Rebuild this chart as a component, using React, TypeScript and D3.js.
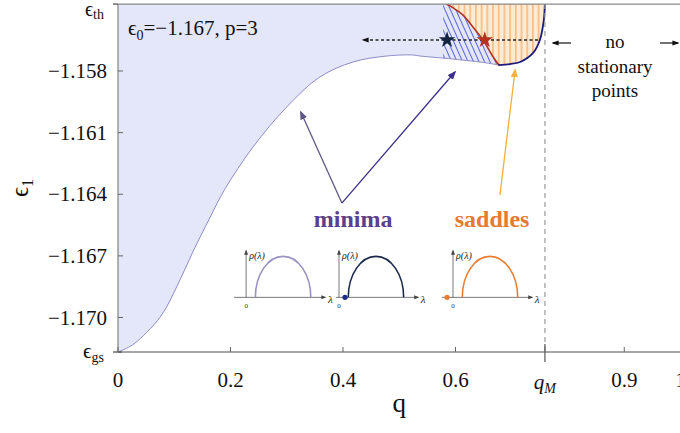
import React from "react";
import * as d3 from "d3";

// ---------- data ----------
const EPS_TH = -1.15474;
const EPS_GS = -1.17168;
const Q_M = 0.759;

// lower boundary of the minima region (thin lavender curve)
const lowerQ = [0, 0.015, 0.03, 0.075, 0.105, 0.133, 0.164, 0.19, 0.24, 0.3, 0.359, 0.418, 0.478, 0.524, 0.537, 0.596, 0.656, 0.676];
const lowerEps = [-1.17168, -1.1715, -1.17125, -1.16998, -1.16847, -1.16681, -1.16511, -1.16375, -1.1617, -1.15975, -1.15829, -1.15756, -1.15727, -1.15722, -1.15727, -1.15742, -1.15761, -1.15771];

// navy boundary of saddles region
const navyQ = [0.676, 0.697, 0.715, 0.738, 0.75, 0.757, 0.759];
const navyEps = [-1.15771, -1.15766, -1.15756, -1.15712, -1.15649, -1.15552, -1.15474];

// red boundary between minima (hatched) and saddles
const redQ = [0.584, 0.596, 0.613, 0.631, 0.649, 0.667, 0.677];
const redEps = [-1.15474, -1.15493, -1.15527, -1.15586, -1.15649, -1.15732, -1.15771];

const HATCH_Q0 = 0.578;

const starsQ = [0.585, 0.652];
const starEps = -1.15649;
const dashArrowQ = [0.4356, 0.7467];

const yTicks = [-1.158, -1.161, -1.164, -1.167, -1.17];
const yTickLabels = ["−1.158", "−1.161", "−1.164", "−1.167", "−1.170"];
const xTicks = [0, 0.2, 0.4, 0.6, 0.9, 1.0];
const xTickLabels = ["0", "0.2", "0.4", "0.6", "0.9", "1"];

// annotation arrows, [q, eps]
const minimaVertex: [number, number] = [0.398, -1.16443];
const minimaTip1: [number, number] = [0.325, -1.16];
const minimaTip2: [number, number] = [0.599, -1.15805];
const saddleFrom: [number, number] = [0.679, -1.16404];
const saddleTip: [number, number] = [0.706, -1.15795];

// insets: origin in main data coords [q, eps]
const insetOrigins: [number, number][] = [
  [0.2278, -1.16902],
  [0.3929, -1.16902],
  [0.5956, -1.16902],
];
const insetColors = ["#9a92c4", "#1c2a4c", "#ec7d2e"];
const insetDotColors = [null, "#1e2a8a", "#ec7d2e"];

const W = 680;
const H = 433;

export default function App() {
  const x = d3.scaleLinear().domain([0, 1]).range([118, 680.5]);
  const y = d3.scaleLinear().domain([-1.17, -1.158]).range([317.5, 71]);
  const yTop = y(EPS_TH);
  const yBot = y(EPS_GS);

  const lowerPts: [number, number][] = lowerQ.map((q, i) => [q, lowerEps[i]]);
  const navyPts: [number, number][] = navyQ.map((q, i) => [q, navyEps[i]]);
  const redPts: [number, number][] = redQ.map((q, i) => [q, redEps[i]]);

  const smooth = d3.curveCatmullRom.alpha(0.5);

  const line = d3
    .line<[number, number]>()
    .x((d) => x(d[0]))
    .y((d) => y(d[1]))
    .curve(smooth);

  const area = d3
    .area<[number, number]>()
    .x((d) => x(d[0]))
    .y0(yTop)
    .y1((d) => y(d[1]))
    .curve(smooth);

  const lowerPath = line(lowerPts) || "";
  const blueArea = area(lowerPts) || "";
  const navyPath = line(navyPts) || "";
  const redPath = line(redPts) || "";

  // orange region: top edge, navy down reversed, red up reversed
  const navyRev = line([...navyPts].reverse()) || "";
  const orangeRegion =
    `M${x(redQ[0])},${yTop}L${x(navyQ[navyQ.length - 1])},${yTop}` +
    navyRev.replace(/^M/, "L") +
    (line(redPts.slice().reverse()) || "").replace(/^M/, "L") +
    "Z";

  // hatched minima region: top, red curve down, lower curve back
  const lowerRevPart = line(lowerPts.filter((p) => p[0] >= 0.52).reverse()) || "";
  const hatchRegion =
    `M${x(0.52)},${yTop}L${x(redQ[0])},${yTop}` +
    redPath.replace(/^M/, "L") +
    lowerRevPart.replace(/^M/, "L") +
    "Z";

  const serif = "'Liberation Serif', 'Times New Roman', serif";

  const star = d3.symbol().type(d3.symbolStar).size(85)() || "";

  const arrowLine = (a: [number, number], b: [number, number], color: string, marker: string, w = 1.3) => (
    <line x1={x(a[0])} y1={y(a[1])} x2={x(b[0])} y2={y(b[1])} stroke={color} strokeWidth={w} markerEnd={`url(#${marker})`} />
  );

  return (
    <svg width={W} height={H} style={{ position: "absolute", left: 0, top: 0, background: "#fff" }} fontFamily={serif}>
      <defs>
        <pattern id="vhatch" patternUnits="userSpaceOnUse" width={5.7} height={10}>
          <rect width={5.7} height={10} fill="#fdebd3" />
          <line x1={2.8} y1={0} x2={2.8} y2={10} stroke="#f6a25d" strokeWidth={1.1} />
        </pattern>
        <pattern id="dhatch" patternUnits="userSpaceOnUse" width={5} height={10} patternTransform="rotate(-24)">
          <line x1={2.5} y1={0} x2={2.5} y2={10} stroke="#4a58d0" strokeWidth={0.9} />
        </pattern>
        <clipPath id="hatchClip">
          <rect x={x(HATCH_Q0)} y={0} width={200} height={H} />
        </clipPath>
        <clipPath id="plotClip">
          <rect x={118} y={yTop} width={W - 118} height={yBot - yTop} />
        </clipPath>
        <marker id="arrBlack" viewBox="0 0 10 10" refX={8} refY={5} markerWidth={7} markerHeight={7} orient="auto-start-reverse" markerUnits="userSpaceOnUse">
          <path d="M0,1.5L10,5L0,8.5Z" fill="#111" />
        </marker>
        <marker id="arrGrayPurple" viewBox="0 0 10 10" refX={8} refY={5} markerWidth={9} markerHeight={9} orient="auto" markerUnits="userSpaceOnUse">
          <path d="M0,1L10,5L0,9Z" fill="#5e5788" />
        </marker>
        <marker id="arrNavy" viewBox="0 0 10 10" refX={8} refY={5} markerWidth={9} markerHeight={9} orient="auto" markerUnits="userSpaceOnUse">
          <path d="M0,1L10,5L0,9Z" fill="#3a2f8c" />
        </marker>
        <marker id="arrOrange" viewBox="0 0 10 10" refX={8} refY={5} markerWidth={9} markerHeight={9} orient="auto" markerUnits="userSpaceOnUse">
          <path d="M0,1L10,5L0,9Z" fill="#f5b03a" />
        </marker>
        <marker id="arrSmall" viewBox="0 0 10 10" refX={8} refY={5} markerWidth={5} markerHeight={5} orient="auto" markerUnits="userSpaceOnUse">
          <path d="M0,1L10,5L0,9Z" fill="#444" />
        </marker>
      </defs>

      {/* regions */}
      <g clipPath="url(#plotClip)">
        <path d={blueArea} fill="#e4e6fa" />
        <path d={hatchRegion} fill="url(#dhatch)" clipPath="url(#hatchClip)" />
        <path d={orangeRegion} fill="url(#vhatch)" />
        <path d={lowerPath} fill="none" stroke="#8e8cc8" strokeWidth={1} />
        <path d={redPath} fill="none" stroke="#b3321e" strokeWidth={1.6} />
        <path d={navyPath} fill="none" stroke="#1c1c7c" strokeWidth={1.8} />
      </g>

      {/* q_M dashed line */}
      <line x1={x(Q_M)} x2={x(Q_M)} y1={yTop} y2={yBot} stroke="#9a9a9a" strokeWidth={1.2} strokeDasharray="5,4" />

      {/* frame */}
      <line x1={118} x2={W} y1={yTop} y2={yTop} stroke="#8a8a8a" strokeWidth={1.3} />
      <line x1={118} x2={W} y1={yBot} y2={yBot} stroke="#8a8a8a" strokeWidth={1.3} />
      <line x1={118} x2={118} y1={yTop} y2={yBot} stroke="#8a8a8a" strokeWidth={1.3} />

      {/* y ticks */}
      {yTicks.map((t, i) => (
        <g key={"yt" + i}>
          <line x1={118} x2={123} y1={y(t)} y2={y(t)} stroke="#666" strokeWidth={1} />
          <text x={107} y={y(t) + 7} textAnchor="end" fontSize={21} fill="#111">{yTickLabels[i]}</text>
        </g>
      ))}
      <line x1={113} x2={118} y1={yTop} y2={yTop} stroke="#555" strokeWidth={1.3} />
      <line x1={113} x2={122} y1={yBot} y2={yBot} stroke="#555" strokeWidth={1.3} />
      <text x={104} y={yTop + 12} textAnchor="end" fontSize={20} fill="#111">
        ϵ<tspan fontSize={14} dy={3}>th</tspan>
      </text>
      <text x={104} y={yBot + 6} textAnchor="end" fontSize={21} fill="#111">
        ϵ<tspan fontSize={14} dy={4}>gs</tspan>
      </text>
      <text transform={`translate(28,${(yTop + yBot) / 2 + 10}) rotate(-90)`} textAnchor="middle" fontSize={25} fill="#111">
        ϵ<tspan fontSize={16} dy={5}>1</tspan>
      </text>

      {/* x ticks */}
      {xTicks.map((t, i) => (
        <g key={"xt" + i}>
          <line x1={x(t)} x2={x(t)} y1={yBot} y2={yBot - 5} stroke="#666" strokeWidth={1} />
          <text x={x(t)} y={yBot + 35} textAnchor="middle" fontSize={21} fill="#111">{xTickLabels[i]}</text>
        </g>
      ))}
      <line x1={x(Q_M)} x2={x(Q_M)} y1={yBot - 8} y2={yBot + 10} stroke="#555" strokeWidth={1.2} />
      <text x={x(Q_M)} y={yBot + 37} textAnchor="middle" fontSize={21} fontStyle="italic" fill="#111">
        q<tspan fontSize={14} dy={4}>M</tspan>
      </text>
      <text x={x(0.5)} y={yBot + 60} textAnchor="middle" fontSize={27} fill="#111">q</text>

      {/* parameter label */}
      <text x={128} y={35} fontSize={21} fill="#111">
        ϵ<tspan fontSize={14} dy={5}>0</tspan><tspan dy={-5}>=−1.167, p=3</tspan>
      </text>

      {/* dashed arrow through stars */}
      <line x1={x(dashArrowQ[1])} x2={x(dashArrowQ[0])} y1={y(starEps)} y2={y(starEps)} stroke="#222" strokeWidth={1.3} strokeDasharray="3,2.5" markerEnd="url(#arrBlack)" />
      <path d={star} transform={`translate(${x(starsQ[0])},${y(starEps)})`} fill="#14233f" />
      <path d={star} transform={`translate(${x(starsQ[1])},${y(starEps)})`} fill="#b3321e" />

      {/* no stationary points */}
      <g fontSize={19} fill="#111" textAnchor="middle">
        <text x={615} y={48}>no</text>
        <text x={615} y={73}>stationary</text>
        <text x={615} y={97}>points</text>
      </g>
      <line x1={571} x2={553} y1={43} y2={43} stroke="#111" strokeWidth={1.2} markerEnd="url(#arrBlack)" />
      <line x1={660} x2={678} y1={43} y2={43} stroke="#111" strokeWidth={1.2} markerEnd="url(#arrBlack)" />

      {/* annotation arrows */}
      {arrowLine(minimaVertex, minimaTip1, "#5e5788", "arrGrayPurple")}
      {arrowLine(minimaVertex, minimaTip2, "#3a2f8c", "arrNavy")}
      {arrowLine(saddleFrom, saddleTip, "#f5b03a", "arrOrange")}

      <text x={x(0.418)} y={227} textAnchor="middle" fontSize={24} fontWeight="bold" fill="#5b3e8e">minima</text>
      <text x={x(0.665)} y={227} textAnchor="middle" fontSize={24} fontWeight="bold" fill="#e57b32">saddles</text>

      {/* insets */}
      {insetOrigins.map((o, i) => {
        const ox = x(o[0]);
        const oy = y(o[1]);
        const lx = d3.scaleLinear().domain([0, 1]).range([ox, ox + 66]);
        const ly = d3.scaleLinear().domain([0, 1]).range([oy, oy - 41]);
        const a = lx(0.14);
        const b = lx(0.98);
        const rx = (b - a) / 2;
        const ry = oy - ly(1);
        const semi = `M${a},${oy}A${rx},${ry} 0 0 1 ${b},${oy}`;
        const leftExt = i === 0 ? 12 : i === 1 ? 3 : 11;
        return (
          <g key={"inset" + i}>
            <line x1={ox - leftExt} x2={lx(1.2)} y1={oy} y2={oy} stroke="#555" strokeWidth={0.8} markerEnd="url(#arrSmall)" />
            <line x1={ox} x2={ox} y1={oy} y2={ly(1.14)} stroke="#555" strokeWidth={0.8} markerEnd="url(#arrSmall)" />
            <path d={semi} fill="none" stroke={insetColors[i]} strokeWidth={1.6} />
            <text x={ox + 3} y={ly(0.93)} fontSize={10} fontStyle="italic" fill="#222">ρ(λ)</text>
            <text x={lx(1.24)} y={oy + 6} fontSize={11} fontStyle="italic" fill="#222">λ</text>
            <text x={ox} y={oy + 11} fontSize={7} textAnchor="middle" fill="#333">0</text>
            {insetDotColors[i] && (
              <circle cx={i === 1 ? ox + 6 : ox - 6} cy={oy} r={2.6} fill={insetDotColors[i] as string} />
            )}
          </g>
        );
      })}
    </svg>
  );
}
